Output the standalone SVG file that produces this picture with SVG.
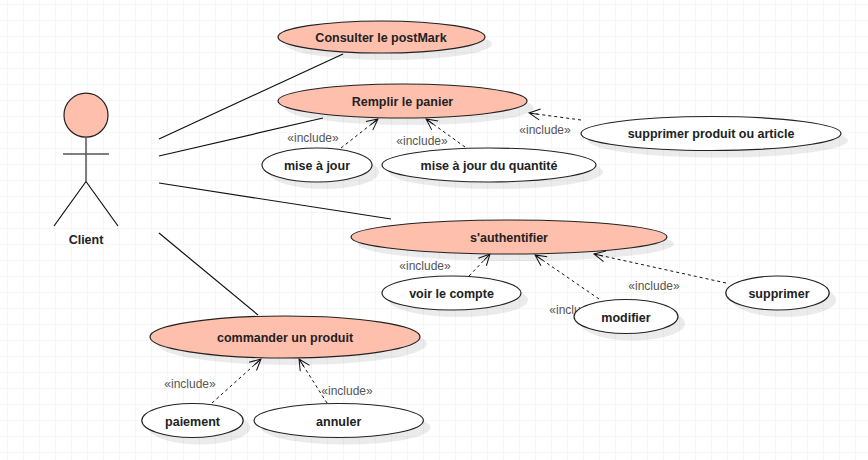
<svg xmlns="http://www.w3.org/2000/svg" width="868" height="460" viewBox="0 0 868 460">
<style>
text{font-family:"Liberation Sans",Arial,sans-serif;font-size:12px}
.n{font-weight:bold;text-anchor:middle;fill:#222;font-size:12.5px}
.l{fill:#555;text-anchor:middle}
.s{fill:#000;fill-opacity:.08;stroke:none}
.o{fill:#ffbfad;stroke:#222;stroke-width:1.2}
.w{fill:#fff;stroke:#222;stroke-width:1.2}
.a{fill:none;stroke:#111;stroke-width:1.2}
.d{fill:none;stroke:#111;stroke-width:1;stroke-dasharray:3 3;marker-end:url(#h)}
.k{fill:none;stroke:#555;stroke-width:1.5}
</style>
<defs>
<pattern id="g" x="7" y="4" width="16" height="16" patternUnits="userSpaceOnUse"><path d="M0 0V16M0 0H16" fill="none" stroke="#f3f3f3" stroke-width="1.4"/></pattern>
<marker id="h" markerUnits="userSpaceOnUse" markerWidth="14" markerHeight="14" refX="12" refY="7" orient="auto"><path d="M1 1.5L12 7L1 12.5M3 7H12" fill="none" stroke="#111" stroke-width="1"/></marker>
</defs>
<rect width="868" height="460" fill="#fff"/>
<rect width="868" height="460" fill="url(#g)"/>
<g id="connectors">
<path class="a" d="M159 139L343 54M159 156L323 118M159 183L391 219M159 233L258 315"/>
<path class="d" d="M341 148L378 119"/>
<path class="d" d="M465 147L426 119"/>
<path class="d" d="M581 120L529 113"/>
<path class="d" d="M469 276L490 254"/>
<path class="d" d="M599 299L535 255"/>
<path class="d" d="M726 283L594 254"/>
<path class="d" d="M212 403L261 359"/>
<path class="d" d="M327 403L299 359"/>
<text class="l" x="313" y="142">«include»</text>
<text class="l" x="422" y="145">«include»</text>
<text class="l" x="545" y="134">«include»</text>
<text class="l" x="425" y="270">«include»</text>
<text class="l" x="654" y="290">«include»</text>
<text class="l" x="575" y="314">«include»</text>
<text class="l" x="190" y="388">«include»</text>
<text class="l" x="347" y="395">«include»</text>
</g>
<g id="actor-client">
<circle class="o" cx="86" cy="115.2" r="22"/>
<path class="k" d="M86 137V181.500M63 154H109"/>
<path class="a" d="M86 181.500L54 226M86 181.500L118 226" stroke="#333"/>
<text class="n" x="86" y="244">Client</text>
</g>
<g id="consulter"><ellipse class="s" cx="388.500" cy="44" rx="103.500" ry="16"/><ellipse class="o" cx="381.500" cy="37" rx="103.500" ry="16"/><text class="n" x="381" y="41.500">Consulter le postMark</text></g>
<g id="remplir"><ellipse class="s" cx="409.500" cy="108" rx="124.500" ry="17"/><ellipse class="o" cx="402.500" cy="101" rx="124.500" ry="17"/><text class="n" x="402.500" y="106">Remplir le panier</text></g>
<g id="maj"><ellipse class="s" cx="324" cy="172" rx="55" ry="17"/><ellipse class="w" cx="317" cy="165" rx="55" ry="17"/><text class="n" x="317" y="169.500">mise à jour</text></g>
<g id="maj-quantite"><ellipse class="s" cx="496" cy="172" rx="107" ry="17"/><ellipse class="w" cx="489" cy="165" rx="107" ry="17"/><text class="n" x="489" y="169.500">mise à jour du quantité</text></g>
<g id="supprimer-produit"><ellipse class="s" cx="718" cy="140.500" rx="130" ry="17"/><ellipse class="w" cx="711" cy="133.500" rx="130" ry="17"/><text class="n" x="711" y="138">supprimer produit ou article</text></g>
<g id="authentifier"><ellipse class="s" cx="516" cy="244" rx="158" ry="17"/><ellipse class="o" cx="509" cy="237" rx="158" ry="17"/><text class="n" x="509" y="242">s'authentifier</text></g>
<g id="voir-compte"><ellipse class="s" cx="458.500" cy="300" rx="69.500" ry="17"/><ellipse class="w" cx="451.500" cy="293" rx="69.500" ry="17"/><text class="n" x="451.500" y="297.500">voir le compte</text></g>
<g id="modifier"><ellipse class="s" cx="633" cy="323.500" rx="52" ry="17"/><ellipse class="w" cx="626" cy="316.500" rx="52" ry="17"/><text class="n" x="626" y="322">modifier</text></g>
<g id="supprimer"><ellipse class="s" cx="784.500" cy="300" rx="51.700" ry="17"/><ellipse class="w" cx="777.500" cy="293" rx="51.700" ry="17"/><text class="n" x="779" y="298">supprimer</text></g>
<g id="commander"><ellipse class="s" cx="292" cy="344" rx="135" ry="21"/><ellipse class="o" cx="285" cy="337" rx="135" ry="21"/><text class="n" x="285" y="342">commander un produit</text></g>
<g id="paiement"><ellipse class="s" cx="199.500" cy="427.500" rx="50.700" ry="17"/><ellipse class="w" cx="192.500" cy="420.500" rx="50.700" ry="17"/><text class="n" x="192.500" y="426">paiement</text></g>
<g id="annuler"><ellipse class="s" cx="345.700" cy="427.500" rx="84.700" ry="17"/><ellipse class="w" cx="338.700" cy="420.500" rx="84.700" ry="17"/><text class="n" x="338.700" y="426">annuler</text></g>
</svg>
